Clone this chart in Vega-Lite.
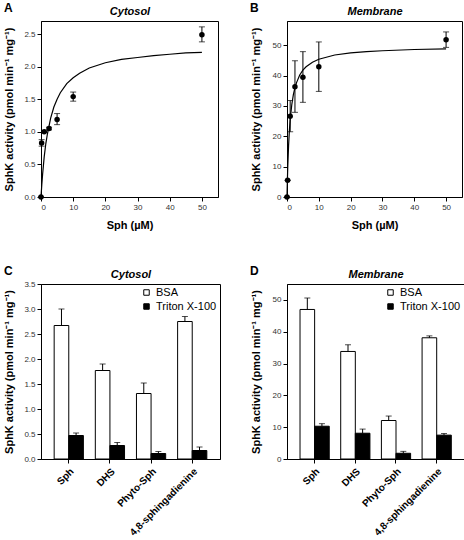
{
  "$schema": "https://vega.github.io/schema/vega-lite/v6.json",
  "background": "white",
  "padding": {"left": 3, "top": 1, "right": 2, "bottom": 2},
  "config": {
    "font": "Liberation Sans",
    "view": {"stroke": "black", "strokeWidth": 1},
    "axis": {"labelFont": "Liberation Sans", "labelFontSize": 8, "labelColor": "#333", "titleFont": "Liberation Sans", "titleFontSize": 11, "titleFontWeight": "bold", "titleColor": "black", "tickColor": "black", "domainColor": "black", "grid": false, "tickSize": 4, "labelPadding": 2},
    "title": {"font": "Liberation Sans", "fontSize": 12, "fontWeight": "bold", "anchor": "start", "frame": "bounds", "color": "black"},
    "legend": {"labelFont": "Liberation Sans", "labelFontSize": 11, "labelColor": "black", "symbolType": "square", "symbolSize": 30, "symbolStrokeColor": "black", "symbolStrokeWidth": 1, "padding": 0, "rowPadding": 2, "offset": 3}
  },
  "datasets": {
    "curveA": [
      {"x": 0, "y": 0}, {"x": 0.25, "y": 0.19}, {"x": 0.5, "y": 0.35}, {"x": 1, "y": 0.62}, {"x": 1.5, "y": 0.82}, {"x": 2, "y": 0.97}, {"x": 3, "y": 1.21}, {"x": 4, "y": 1.38}, {"x": 5, "y": 1.5}, {"x": 6, "y": 1.6}, {"x": 8, "y": 1.74}, {"x": 10, "y": 1.83}, {"x": 12, "y": 1.9}, {"x": 15, "y": 1.98}, {"x": 20, "y": 2.06}, {"x": 25, "y": 2.11}, {"x": 30, "y": 2.14}, {"x": 35, "y": 2.17}, {"x": 40, "y": 2.19}, {"x": 45, "y": 2.21}, {"x": 50, "y": 2.22}
    ],
    "ptsA": [
      {"x": 0, "y": 0, "lo": 0, "hi": 0},
      {"x": 0.2, "y": 0.83, "lo": 0.78, "hi": 0.88},
      {"x": 1, "y": 1.0, "lo": 0.99, "hi": 1.01},
      {"x": 2.5, "y": 1.05, "lo": 1.03, "hi": 1.07},
      {"x": 5, "y": 1.19, "lo": 1.11, "hi": 1.28},
      {"x": 10, "y": 1.54, "lo": 1.47, "hi": 1.61},
      {"x": 50, "y": 2.49, "lo": 2.38, "hi": 2.61}
    ],
    "curveB": [
      {"x": 0, "y": 0}, {"x": 0.1, "y": 4.7}, {"x": 0.25, "y": 10.3}, {"x": 0.5, "y": 17.1}, {"x": 0.75, "y": 21.9}, {"x": 1, "y": 25.5}, {"x": 1.5, "y": 30.4}, {"x": 2, "y": 33.7}, {"x": 2.5, "y": 36.0}, {"x": 3, "y": 37.7}, {"x": 4, "y": 40.2}, {"x": 5, "y": 41.8}, {"x": 6, "y": 42.9}, {"x": 8, "y": 44.4}, {"x": 10, "y": 45.4}, {"x": 15, "y": 46.8}, {"x": 20, "y": 47.5}, {"x": 25, "y": 47.9}, {"x": 30, "y": 48.2}, {"x": 40, "y": 48.6}, {"x": 50, "y": 48.8}
    ],
    "ptsB": [
      {"x": 0, "y": 0, "lo": 0, "hi": 0},
      {"x": 0.2, "y": 5.5, "lo": 5.5, "hi": 5.5},
      {"x": 1, "y": 26.6, "lo": 21.5, "hi": 31.8},
      {"x": 2.5, "y": 36.3, "lo": 27.9, "hi": 44.9},
      {"x": 5, "y": 39.5, "lo": 31.2, "hi": 47.9},
      {"x": 10, "y": 42.9, "lo": 34.8, "hi": 51.1},
      {"x": 50, "y": 51.8, "lo": 49.3, "hi": 54.4}
    ],
    "barC": [
      {"cat": "Sph", "cond": "BSA", "v": 2.67, "hi": 3.0},
      {"cat": "Sph", "cond": "Triton X-100", "v": 0.47, "hi": 0.52},
      {"cat": "DHS", "cond": "BSA", "v": 1.77, "hi": 1.9},
      {"cat": "DHS", "cond": "Triton X-100", "v": 0.27, "hi": 0.33},
      {"cat": "Phyto-Sph", "cond": "BSA", "v": 1.31, "hi": 1.52},
      {"cat": "Phyto-Sph", "cond": "Triton X-100", "v": 0.11, "hi": 0.15},
      {"cat": "4,8-sphingadienine", "cond": "BSA", "v": 2.75, "hi": 2.85},
      {"cat": "4,8-sphingadienine", "cond": "Triton X-100", "v": 0.17, "hi": 0.24}
    ],
    "barD": [
      {"cat": "Sph", "cond": "BSA", "v": 47.0, "hi": 50.6},
      {"cat": "Sph", "cond": "Triton X-100", "v": 10.3, "hi": 11.1},
      {"cat": "DHS", "cond": "BSA", "v": 33.8, "hi": 35.9},
      {"cat": "DHS", "cond": "Triton X-100", "v": 8.1, "hi": 9.4},
      {"cat": "Phyto-Sph", "cond": "BSA", "v": 12.1, "hi": 13.5},
      {"cat": "Phyto-Sph", "cond": "Triton X-100", "v": 1.8, "hi": 2.4},
      {"cat": "4,8-sphingadienine", "cond": "BSA", "v": 38.1, "hi": 38.7},
      {"cat": "4,8-sphingadienine", "cond": "Triton X-100", "v": 7.5, "hi": 8.0}
    ]
  },
  "columns": 2,
  "spacing": {"row": 87, "column": 67},
  "bounds": "flush",
  "resolve": {"scale": {"fill": "independent"}, "legend": {"fill": "independent"}},
  "concat": [
    {
      "width": 177, "height": 176,
      "title": {"text": "A", "dy": 14},
      "resolve": {"axis": {"x": "independent"}},
      "layer": [
        {
          "data": {"name": "curveA"},
          "mark": {"type": "line", "color": "black", "strokeWidth": 1.2},
          "encoding": {
            "x": {"field": "x", "type": "quantitative", "scale": {"domain": [0, 55], "nice": false}, "axis": {"orient": "top", "title": "Cytosol", "labels": false, "ticks": false, "domain": false, "titleFontStyle": "italic", "titlePadding": 5}},
            "y": {"field": "y", "type": "quantitative", "scale": {"domain": [0, 2.7], "nice": false}, "axis": {"title": "SphK activity (pmol min⁻¹ mg⁻¹)", "values": [0, 0.5, 1, 1.5, 2, 2.5], "format": ".1f", "titlePadding": 9}}
          }
        },
        {
          "data": {"name": "ptsA"},
          "mark": {"type": "errorbar", "color": "black", "ticks": {"size": 6, "color": "black"}},
          "encoding": {
            "x": {"field": "x", "type": "quantitative", "axis": null},
            "y": {"field": "lo", "type": "quantitative", "axis": {"title": "SphK activity (pmol min⁻¹ mg⁻¹)", "values": [0, 0.5, 1, 1.5, 2, 2.5], "format": ".1f", "titlePadding": 9}},
            "y2": {"field": "hi"}
          }
        },
        {
          "data": {"name": "ptsA"},
          "mark": {"type": "point", "filled": true, "color": "black", "size": 30, "opacity": 1},
          "encoding": {
            "x": {"field": "x", "type": "quantitative", "axis": {"title": "Sph (µM)", "values": [0, 10, 20, 30, 40, 50], "titlePadding": 8}},
            "y": {"field": "y", "type": "quantitative", "axis": {"title": "SphK activity (pmol min⁻¹ mg⁻¹)", "values": [0, 0.5, 1, 1.5, 2, 2.5], "format": ".1f", "titlePadding": 9}}
          }
        }
      ]
    },
    {
      "width": 175, "height": 176,
      "title": {"text": "B", "dy": 14},
      "resolve": {"axis": {"x": "independent"}},
      "layer": [
        {
          "data": {"name": "curveB"},
          "mark": {"type": "line", "color": "black", "strokeWidth": 1.2},
          "encoding": {
            "x": {"field": "x", "type": "quantitative", "scale": {"domain": [0, 55], "nice": false}, "axis": {"orient": "top", "title": "Membrane", "labels": false, "ticks": false, "domain": false, "titleFontStyle": "italic", "titlePadding": 5}},
            "y": {"field": "y", "type": "quantitative", "scale": {"domain": [0, 58], "nice": false}, "axis": {"title": "SphK activity (pmol min⁻¹ mg⁻¹)", "values": [0, 10, 20, 30, 40, 50], "titlePadding": 11}}
          }
        },
        {
          "data": {"name": "ptsB"},
          "mark": {"type": "errorbar", "color": "black", "ticks": {"size": 6, "color": "black"}},
          "encoding": {
            "x": {"field": "x", "type": "quantitative", "axis": null},
            "y": {"field": "lo", "type": "quantitative", "axis": {"title": "SphK activity (pmol min⁻¹ mg⁻¹)", "values": [0, 10, 20, 30, 40, 50], "titlePadding": 11}},
            "y2": {"field": "hi"}
          }
        },
        {
          "data": {"name": "ptsB"},
          "mark": {"type": "point", "filled": true, "color": "black", "size": 30, "opacity": 1},
          "encoding": {
            "x": {"field": "x", "type": "quantitative", "axis": {"title": "Sph (µM)", "values": [0, 10, 20, 30, 40, 50], "titlePadding": 8}},
            "y": {"field": "y", "type": "quantitative", "axis": {"title": "SphK activity (pmol min⁻¹ mg⁻¹)", "values": [0, 10, 20, 30, 40, 50], "titlePadding": 11}}
          }
        }
      ]
    },
    {
      "width": 179, "height": 175,
      "title": {"text": "C", "dy": 14},
      "data": {"name": "barC"},
      "resolve": {"axis": {"x": "independent"}},
      "layer": [
        {
          "mark": {"type": "bar", "stroke": "black", "strokeWidth": 1},
          "encoding": {
            "x": {"field": "cat", "type": "nominal", "sort": ["Sph", "DHS", "Phyto-Sph", "4,8-sphingadienine"], "scale": {"paddingInner": 0.29, "paddingOuter": 0.32}, "axis": {"title": null, "labelAngle": -45, "labelFontWeight": "bold", "labelFontSize": 10, "labelColor": "black", "labelPadding": 3}},
            "xOffset": {"field": "cond", "type": "nominal", "sort": ["BSA", "Triton X-100"], "scale": {"paddingInner": 0, "paddingOuter": 0}},
            "y": {"field": "v", "type": "quantitative", "scale": {"domain": [0, 3.5], "nice": false}, "axis": {"title": "SphK activity (pmol min⁻¹ mg⁻¹)", "values": [0, 0.5, 1, 1.5, 2, 2.5, 3, 3.5], "format": ".1f", "titlePadding": 9}},
            "fill": {"field": "cond", "type": "nominal", "scale": {"domain": ["BSA", "Triton X-100"], "range": ["white", "black"]}, "legend": {"title": null, "orient": "top-right"}}
          }
        },
        {
          "mark": {"type": "rule", "color": "black", "strokeWidth": 1},
          "encoding": {
            "x": {"field": "cat", "type": "nominal", "sort": ["Sph", "DHS", "Phyto-Sph", "4,8-sphingadienine"], "axis": {"orient": "top", "title": "Cytosol", "labels": false, "ticks": false, "domain": false, "titleFontStyle": "italic", "titlePadding": 5}},
            "xOffset": {"field": "cond", "type": "nominal", "sort": ["BSA", "Triton X-100"]},
            "y": {"field": "v", "type": "quantitative", "axis": {"title": "SphK activity (pmol min⁻¹ mg⁻¹)", "values": [0, 0.5, 1, 1.5, 2, 2.5, 3, 3.5], "format": ".1f", "titlePadding": 9}},
            "y2": {"field": "hi"}
          }
        },
        {
          "mark": {"type": "tick", "color": "black", "size": 6, "thickness": 1},
          "encoding": {
            "x": {"field": "cat", "type": "nominal", "sort": ["Sph", "DHS", "Phyto-Sph", "4,8-sphingadienine"], "axis": null},
            "xOffset": {"field": "cond", "type": "nominal", "sort": ["BSA", "Triton X-100"]},
            "y": {"field": "hi", "type": "quantitative", "axis": {"title": "SphK activity (pmol min⁻¹ mg⁻¹)", "values": [0, 0.5, 1, 1.5, 2, 2.5, 3, 3.5], "format": ".1f", "titlePadding": 9}}
          }
        }
      ]
    },
    {
      "width": 177, "height": 175,
      "title": {"text": "D", "dy": 14},
      "data": {"name": "barD"},
      "resolve": {"axis": {"x": "independent"}},
      "layer": [
        {
          "mark": {"type": "bar", "stroke": "black", "strokeWidth": 1},
          "encoding": {
            "x": {"field": "cat", "type": "nominal", "sort": ["Sph", "DHS", "Phyto-Sph", "4,8-sphingadienine"], "scale": {"paddingInner": 0.29, "paddingOuter": 0.32}, "axis": {"title": null, "labelAngle": -45, "labelFontWeight": "bold", "labelFontSize": 10, "labelColor": "black", "labelPadding": 3}},
            "xOffset": {"field": "cond", "type": "nominal", "sort": ["BSA", "Triton X-100"], "scale": {"paddingInner": 0, "paddingOuter": 0}},
            "y": {"field": "v", "type": "quantitative", "scale": {"domain": [0, 55], "nice": false}, "axis": {"title": "SphK activity (pmol min⁻¹ mg⁻¹)", "values": [0, 10, 20, 30, 40, 50], "titlePadding": 11}},
            "fill": {"field": "cond", "type": "nominal", "scale": {"domain": ["BSA", "Triton X-100"], "range": ["white", "black"]}, "legend": {"title": null, "orient": "top-right"}}
          }
        },
        {
          "mark": {"type": "rule", "color": "black", "strokeWidth": 1},
          "encoding": {
            "x": {"field": "cat", "type": "nominal", "sort": ["Sph", "DHS", "Phyto-Sph", "4,8-sphingadienine"], "axis": {"orient": "top", "title": "Membrane", "labels": false, "ticks": false, "domain": false, "titleFontStyle": "italic", "titlePadding": 5}},
            "xOffset": {"field": "cond", "type": "nominal", "sort": ["BSA", "Triton X-100"]},
            "y": {"field": "v", "type": "quantitative", "axis": {"title": "SphK activity (pmol min⁻¹ mg⁻¹)", "values": [0, 10, 20, 30, 40, 50], "titlePadding": 11}},
            "y2": {"field": "hi"}
          }
        },
        {
          "mark": {"type": "tick", "color": "black", "size": 6, "thickness": 1},
          "encoding": {
            "x": {"field": "cat", "type": "nominal", "sort": ["Sph", "DHS", "Phyto-Sph", "4,8-sphingadienine"], "axis": null},
            "xOffset": {"field": "cond", "type": "nominal", "sort": ["BSA", "Triton X-100"]},
            "y": {"field": "hi", "type": "quantitative", "axis": {"title": "SphK activity (pmol min⁻¹ mg⁻¹)", "values": [0, 10, 20, 30, 40, 50], "titlePadding": 11}}
          }
        }
      ]
    }
  ]
}
